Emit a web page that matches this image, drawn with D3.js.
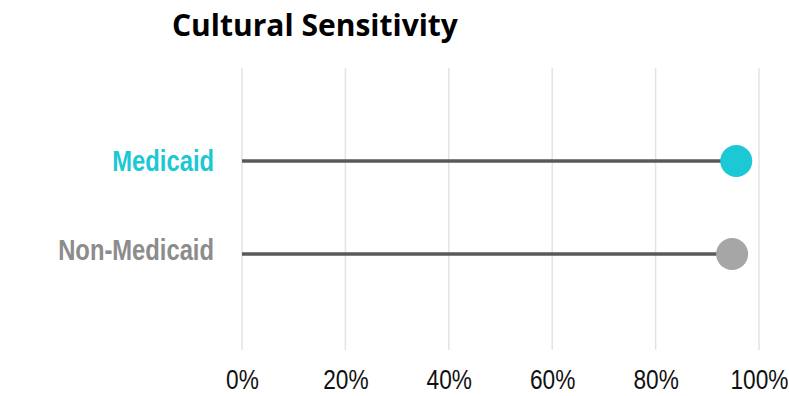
<!DOCTYPE html>
<html>
<head>
<meta charset="utf-8">
<script src="https://cdn.jsdelivr.net/npm/d3@7"></script>
<style>
  html, body { margin: 0; padding: 0; background: #fff; }
  svg { display: block; }
</style>
</head>
<body>
<svg id="chart" width="789" height="396"></svg>
<script>
// Share of respondents rating cultural sensitivity positively
const categories = ["Medicaid", "Non-Medicaid"];
const values = [0.956, 0.948];
const dotColors = ["#1BC8D4", "#A6A6A6"];
const labelColors = ["#1BC8D4", "#8C8C8C"];
const tickValues = [0, 0.2, 0.4, 0.6, 0.8, 1.0];
const title = "Cultural Sensitivity";

const svg = d3.select("#chart");
const sans = "'Liberation Sans', Arial, sans-serif";

const x = d3.scaleLinear().domain([0, 1]).range([242, 759]);
const y = d3.scalePoint().domain(categories).range([161, 254]);

// vertical gridlines
svg.append("g")
  .selectAll("line")
  .data(tickValues)
  .join("line")
  .attr("x1", d => x(d)).attr("x2", d => x(d))
  .attr("y1", 68).attr("y2", 350)
  .attr("stroke", "#E3E3E3")
  .attr("stroke-width", 1.5);

// bottom axis labels, horizontally squeezed for a condensed look
const axis = d3.axisBottom(x).tickValues(tickValues).tickFormat(d3.format(".0%")).tickSize(0);
const ax = svg.append("g").attr("transform", "translate(0,389)").call(axis);
ax.select(".domain").remove();
ax.selectAll("text")
  .attr("font-family", sans)
  .attr("font-size", 28)
  .attr("fill", "#111")
  .attr("dy", 0)
  .attr("y", 0)
  .attr("transform", "scale(0.81,1)");

// stems
svg.append("g")
  .selectAll("line")
  .data(categories)
  .join("line")
  .attr("x1", x(0))
  .attr("x2", (d, i) => x(values[i]))
  .attr("y1", d => y(d)).attr("y2", d => y(d))
  .attr("stroke", "#595959")
  .attr("stroke-width", 3.5);

// end dots
svg.append("g")
  .selectAll("circle")
  .data(categories)
  .join("circle")
  .attr("cx", (d, i) => x(values[i]))
  .attr("cy", d => y(d))
  .attr("r", 16)
  .attr("fill", (d, i) => dotColors[i]);

// category labels
svg.append("g")
  .selectAll("text")
  .data(categories)
  .join("text")
  .attr("transform", (d, i) => `translate(214,${[171, 260][i]}) scale(0.82,1)`)
  .attr("text-anchor", "end")
  .attr("font-family", sans)
  .attr("font-weight", "bold")
  .attr("font-size", 29)
  .attr("fill", (d, i) => labelColors[i])
  .text(d => d);

// title
svg.append("text")
  .attr("x", 172)
  .attr("y", 36)
  .attr("font-family", "'Open Sans', 'Noto Sans', sans-serif")
  .attr("font-weight", "bold")
  .attr("font-size", 30)
  .attr("fill", "#000")
  .text(title);
</script>
</body>
</html>
